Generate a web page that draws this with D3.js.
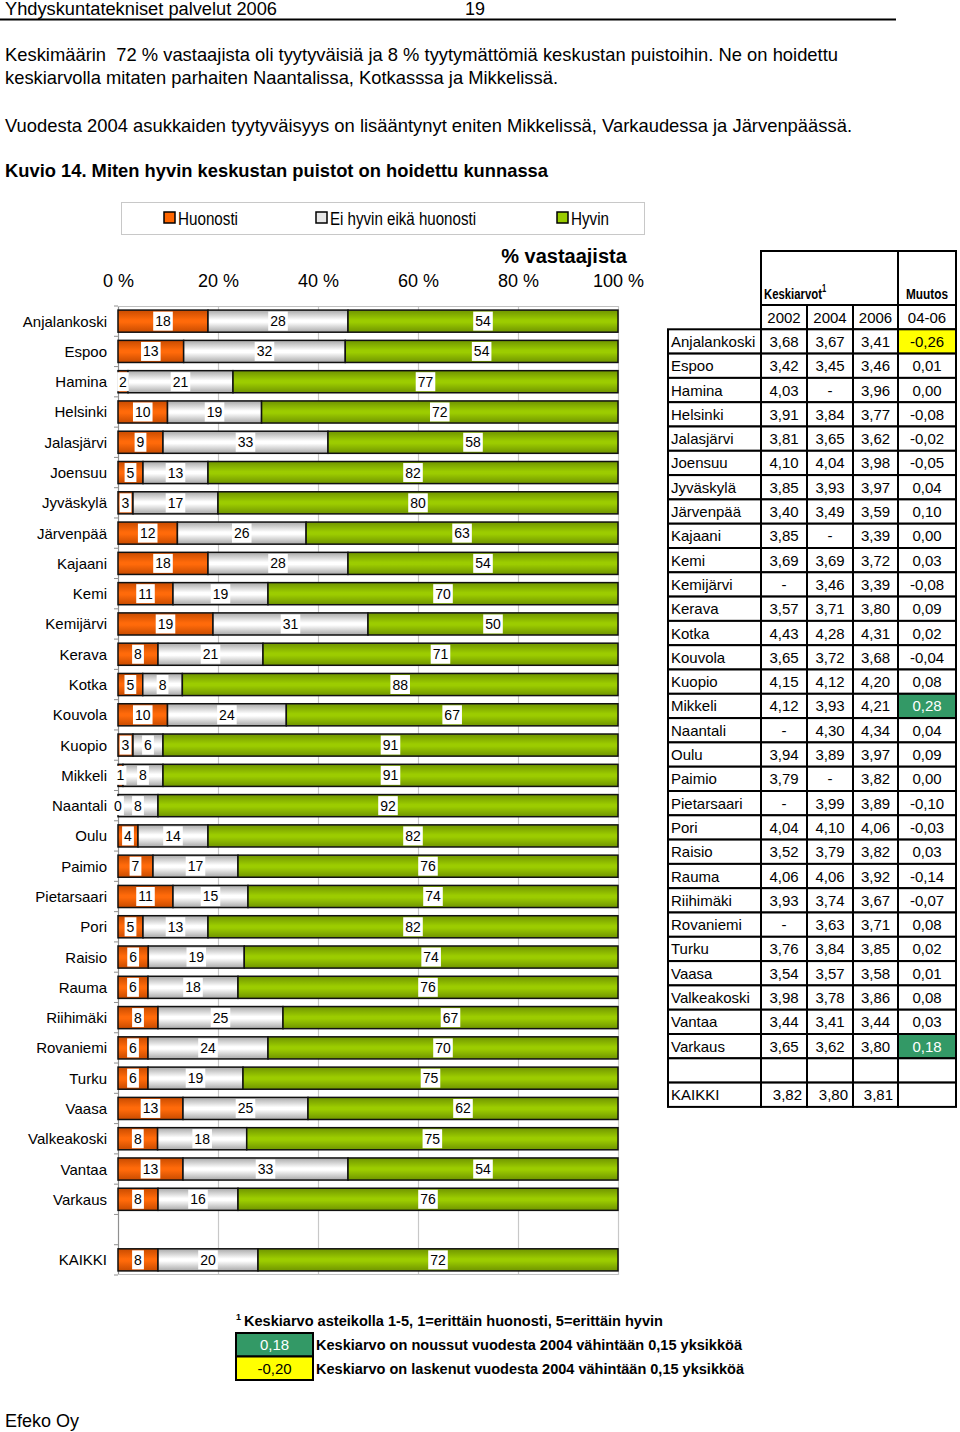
<!DOCTYPE html>
<html><head><meta charset="utf-8">
<script src="https://cdn.jsdelivr.net/npm/d3@7"></script>
<style>
body{margin:0;background:#fff;}
svg{display:block;}
.narrow{font-family:"Liberation Sans Narrow","Arial Narrow","Liberation Sans",sans-serif;white-space:pre;}
.arial{font-family:"Liberation Sans",Arial,sans-serif;}
</style></head>
<body>
<svg id="c" width="960" height="1432"></svg>
<script>
const categories = ["Anjalankoski","Espoo","Hamina","Helsinki","Jalasjärvi","Joensuu","Jyväskylä","Järvenpää","Kajaani","Kemi","Kemijärvi","Kerava","Kotka","Kouvola","Kuopio","Mikkeli","Naantali","Oulu","Paimio","Pietarsaari","Pori","Raisio","Rauma","Riihimäki","Rovaniemi","Turku","Vaasa","Valkeakoski","Vantaa","Varkaus","KAIKKI"];
const seriesNames = ["Huonosti","Ei hyvin eikä huonosti","Hyvin"];
const huonosti = [18,13,2,10,9,5,3,12,18,11,19,8,5,10,3,1,0,4,7,11,5,6,6,8,6,6,13,8,13,8,8];
const eiHyvin  = [28,32,21,19,33,13,17,26,28,19,31,21,8,24,6,8,8,14,17,15,13,19,18,25,24,19,25,18,33,16,20];
const hyvin    = [54,54,77,72,58,82,80,63,54,70,50,71,88,67,91,91,92,82,76,74,82,74,76,67,70,75,62,75,54,76,72];
const tickLabels = ["0 %","20 %","40 %","60 %","80 %","100 %"];
const tickValues = [0,0.2,0.4,0.6,0.8,1];

const tableCities = ["Anjalankoski","Espoo","Hamina","Helsinki","Jalasjärvi","Joensuu","Jyväskylä","Järvenpää","Kajaani","Kemi","Kemijärvi","Kerava","Kotka","Kouvola","Kuopio","Mikkeli","Naantali","Oulu","Paimio","Pietarsaari","Pori","Raisio","Rauma","Riihimäki","Rovaniemi","Turku","Vaasa","Valkeakoski","Vantaa","Varkaus"];
const avg2002 = ["3,68","3,42","4,03","3,91","3,81","4,10","3,85","3,40","3,85","3,69","-","3,57","4,43","3,65","4,15","4,12","-","3,94","3,79","-","4,04","3,52","4,06","3,93","-","3,76","3,54","3,98","3,44","3,65"];
const avg2004 = ["3,67","3,45","-","3,84","3,65","4,04","3,93","3,49","-","3,69","3,46","3,71","4,28","3,72","4,12","3,93","4,30","3,89","-","3,99","4,10","3,79","4,06","3,74","3,63","3,84","3,57","3,78","3,41","3,62"];
const avg2006 = ["3,41","3,46","3,96","3,77","3,62","3,98","3,97","3,59","3,39","3,72","3,39","3,80","4,31","3,68","4,20","4,21","4,34","3,97","3,82","3,89","4,06","3,82","3,92","3,67","3,71","3,85","3,58","3,86","3,44","3,80"];
const muutos  = ["-0,26","0,01","0,00","-0,08","-0,02","-0,05","0,04","0,10","0,00","0,03","-0,08","0,09","0,02","-0,04","0,08","0,28","0,04","0,09","0,00","-0,10","-0,03","0,03","-0,14","-0,07","0,08","0,02","0,01","0,08","0,03","0,18"];
const totalRow = ["KAIKKI","3,82","3,80","3,81",""];
const yearHeaders = ["2002","2004","2006","04-06"];

const svg = d3.select("#c");
const YELLOW = "#ffff00", GREEN = "#339966";

function ntext(xp, yp, size, str, len, bold){
  const t = svg.append("text").attr("class","narrow").attr("x",xp).attr("y",yp).attr("font-size",size)
    .attr("font-weight",bold?"bold":"normal").text(str);
  if (len) t.attr("textLength",len).attr("lengthAdjust","spacingAndGlyphs");
  return t;
}

// ---- Page header and text ----
ntext(5,15,18,"Yhdyskuntatekniset palvelut 2006",272);
ntext(465,15,18,"19",20);
svg.append("line").attr("x1",0).attr("x2",896).attr("y1",19.5).attr("y2",19.5).attr("stroke","#000").attr("stroke-width",2);
ntext(5,61,19,"Keskimäärin  72 % vastaajista oli tyytyväisiä ja 8 % tyytymättömiä keskustan puistoihin. Ne on hoidettu",833);
ntext(5,84,19,"keskiarvolla mitaten parhaiten Naantalissa, Kotkasssa ja Mikkelissä.",553);
ntext(5,132,19,"Vuodesta 2004 asukkaiden tyytyväisyys on lisääntynyt eniten Mikkelissä, Varkaudessa ja Järvenpäässä.",847);
ntext(5,177,19,"Kuvio 14. Miten hyvin keskustan puistot on hoidettu kunnassa",543,true);

// ---- Gradients ----
const defs = svg.append("defs");
function grad(id, edge, mid){
  const g = defs.append("linearGradient").attr("id",id).attr("x1",0).attr("x2",0).attr("y1",0).attr("y2",1);
  g.append("stop").attr("offset","0%").attr("stop-color",edge);
  g.append("stop").attr("offset","45%").attr("stop-color",mid);
  g.append("stop").attr("offset","55%").attr("stop-color",mid);
  g.append("stop").attr("offset","100%").attr("stop-color",edge);
}
grad("gO","#c84b00","#ff6a0a");
grad("gW","#a8a8a8","#ffffff");
grad("gG","#6f9400","#9ccc00");
const fills = ["url(#gO)","url(#gW)","url(#gG)"];
const legendFills = ["#ff6600","#e8e8e8","#99cc00"];

// ---- Legend ----
svg.append("rect").attr("x",121.5).attr("y",202.5).attr("width",523).attr("height",32).attr("fill","#fff").attr("stroke","#c8c8c8");
const legX = [164,316,557];
const legLen = [60,146,38];
seriesNames.forEach((s,i)=>{
  svg.append("rect").attr("x",legX[i]).attr("y",212).attr("width",11).attr("height",11).attr("fill",legendFills[i]).attr("stroke","#000").attr("stroke-width",1.5);
  ntext(legX[i]+14,225,18,s,legLen[i]);
});

// ---- Chart ----
const x0 = 118, x1 = 618;
const x = d3.scaleLinear().domain([0,1]).range([x0,x1]);
const yDomain = categories.slice(0,30).concat(["__gap"], categories.slice(30));
const y = d3.scaleBand().domain(yDomain).range([306,1275]).paddingInner(0.27).paddingOuter(0.135);

svg.append("text").attr("class","arial").attr("x",564).attr("y",263).attr("text-anchor","middle")
  .attr("font-size",20).attr("font-weight","bold").text("% vastaajista");

// grid
const grid = svg.append("g");
tickValues.forEach(v=>{
  grid.append("line").attr("x1",x(v)+0.5).attr("x2",x(v)+0.5).attr("y1",306).attr("y2",1275)
    .attr("stroke", v===0 ? "#909090" : "#c8c8c8").attr("stroke-width",1.2);
});
grid.append("line").attr("x1",x0).attr("x2",x1).attr("y1",306.5).attr("y2",306.5).attr("stroke","#c0c0c0");
grid.append("line").attr("x1",x0).attr("x2",x1).attr("y1",1274.5).attr("y2",1274.5).attr("stroke","#c0c0c0");
// top axis labels
const axisTop = d3.axisTop(x).tickValues(tickValues).tickFormat((d,i)=>tickLabels[i]).tickSize(0).tickPadding(0);
const ag = svg.append("g").attr("transform","translate(0,287)").call(axisTop);
ag.select(".domain").remove();
ag.selectAll("text").attr("font-family","Liberation Sans, Arial, sans-serif").attr("font-size",18).attr("fill","#000");
// left axis ticks
const stepY = y.step();
d3.range(0,33).map(i=>306 + i*stepY).forEach(b=>svg.append("line").attr("x1",114).attr("x2",118).attr("y1",b).attr("y2",b).attr("stroke","#909090"));

const rows = categories.map((c,i)=>({cat:c, vals:[huonosti[i],eiHyvin[i],hyvin[i]]}));
const rowG = svg.append("g").selectAll("g").data(rows).join("g");
rowG.append("text").attr("class","arial").attr("x",107).attr("y",d=>y(d.cat)+y.bandwidth()/2+5.5)
  .attr("text-anchor","end").attr("font-size",15).text(d=>d.cat);
rowG.each(function(d){
  const g = d3.select(this);
  const tot = d3.sum(d.vals);
  let cum = 0;
  const segs = d.vals.map((v,k)=>{ const s={k, v, a:cum/tot, b:(cum+v)/tot}; cum+=v; return s; });
  segs.forEach(s=>{
    if (s.v>0) g.append("rect").attr("x",x(s.a)).attr("y",y(d.cat)).attr("width",x(s.b)-x(s.a)).attr("height",y.bandwidth())
      .attr("fill",fills[s.k]).attr("stroke","#111").attr("stroke-width",1.5);
  });
  segs.forEach(s=>{
    const cx = (x(s.a)+x(s.b))/2, cy = y(d.cat)+y.bandwidth()/2;
    const t = g.append("text").attr("class","arial").attr("x",cx).attr("y",cy+5).attr("text-anchor","middle").attr("font-size",14).text(s.v);
    const w = t.node().getComputedTextLength();
    g.insert("rect", function(){return t.node();}).attr("x",cx-w/2-2).attr("y",cy-9.5).attr("width",w+4).attr("height",19).attr("fill","#fff");
  });
});

// ---- Table ----
const colX = [668,761,807,853,898,956];
const rowH = 24.3;
const firstRowTop = 329.3;
const tg = svg.append("g").attr("class","arial");
tg.append("rect").attr("x",colX[1]).attr("y",251).attr("width",colX[4]-colX[1]).attr("height",54).attr("fill","none").attr("stroke","#000").attr("stroke-width",2);
tg.append("rect").attr("x",colX[4]).attr("y",251).attr("width",colX[5]-colX[4]).attr("height",54).attr("fill","none").attr("stroke","#000").attr("stroke-width",2);
// "Keskiarvot" with superscript, compressed horizontally
const kt = svg.append("text").attr("class","narrow").attr("x",0).attr("y",0).attr("font-size",15).attr("font-weight","bold");
const kMain = kt.append("tspan").text("Keskiarvot");
kt.append("tspan").attr("font-size",10).attr("dy",-7).text("1");
const kw = kMain.node().getComputedTextLength();
kt.attr("transform",`translate(764,299) scale(${58/kw},1)`);
ntext(906,299,15,"Muutos",42,true);
yearHeaders.forEach((h,j)=>{
  tg.append("rect").attr("x",colX[j+1]).attr("y",305).attr("width",colX[j+2]-colX[j+1]).attr("height",firstRowTop-305).attr("fill","none").attr("stroke","#000").attr("stroke-width",2);
  tg.append("text").attr("x",(colX[j+1]+colX[j+2])/2).attr("y",323).attr("text-anchor","middle").attr("font-size",15).text(h);
});
const tRows = tableCities.map((c,i)=>[c,avg2002[i],avg2004[i],avg2006[i],muutos[i]]);
tRows.push(["","","","",""]);
tRows.push(totalRow);
tRows.forEach((r,i)=>{
  const top = firstRowTop + i*rowH;
  r.forEach((v,j)=>{
    let fill = "#fff", tc = "#000";
    if (j===4 && v!=="") {
      const n = parseFloat(v.replace(",","."));
      if (n >= 0.15) { fill = GREEN; tc = "#fff"; }
      else if (n <= -0.15) { fill = YELLOW; }
    }
    tg.append("rect").attr("x",colX[j]).attr("y",top).attr("width",colX[j+1]-colX[j]).attr("height",rowH)
      .attr("fill",fill).attr("stroke","#000").attr("stroke-width",2);
    const isTotal = r[0]==="KAIKKI";
    let tx, anchor;
    if (j===0) { tx = colX[0]+3; anchor = "start"; }
    else if (isTotal) { tx = colX[j+1]-5; anchor = "end"; }
    else { tx = (colX[j]+colX[j+1])/2; anchor = "middle"; }
    tg.append("text").attr("x",tx).attr("y",top+rowH/2+5.5).attr("text-anchor",anchor).attr("font-size",15).attr("fill",tc).text(v);
  });
});

// ---- Footnote ----
const fn = svg.append("text").attr("class","arial").attr("x",236).attr("y",1326).attr("font-weight","bold");
fn.append("tspan").attr("font-size",9).attr("dy",-6).text("1");
fn.append("tspan").attr("font-size",14.3).attr("dy",6).attr("x",244)
  .attr("textLength",419).attr("lengthAdjust","spacingAndGlyphs").text("Keskiarvo asteikolla 1-5, 1=erittäin huonosti, 5=erittäin hyvin");
const legRows = [[GREEN,"#fff","0,18","Keskiarvo on noussut vuodesta 2004 vähintään 0,15 yksikköä",426],
                 [YELLOW,"#000","-0,20","Keskiarvo on laskenut vuodesta 2004 vähintään 0,15 yksikköä",428]];
legRows.forEach((r,i)=>{
  const top = 1333 + i*23.5;
  svg.append("rect").attr("x",236).attr("y",top).attr("width",77).attr("height",23.5).attr("fill",r[0]).attr("stroke","#000").attr("stroke-width",2);
  svg.append("text").attr("class","arial").attr("x",274.5).attr("y",top+17).attr("text-anchor","middle").attr("font-size",15).attr("fill",r[1]).text(r[2]);
  svg.append("text").attr("class","arial").attr("x",316).attr("y",top+17).attr("font-size",14.3).attr("font-weight","bold")
    .attr("textLength",r[4]).attr("lengthAdjust","spacingAndGlyphs").text(r[3]);
});
svg.append("text").attr("class","arial").attr("x",5).attr("y",1427).attr("font-size",18).text("Efeko Oy");
</script>
</body></html>
